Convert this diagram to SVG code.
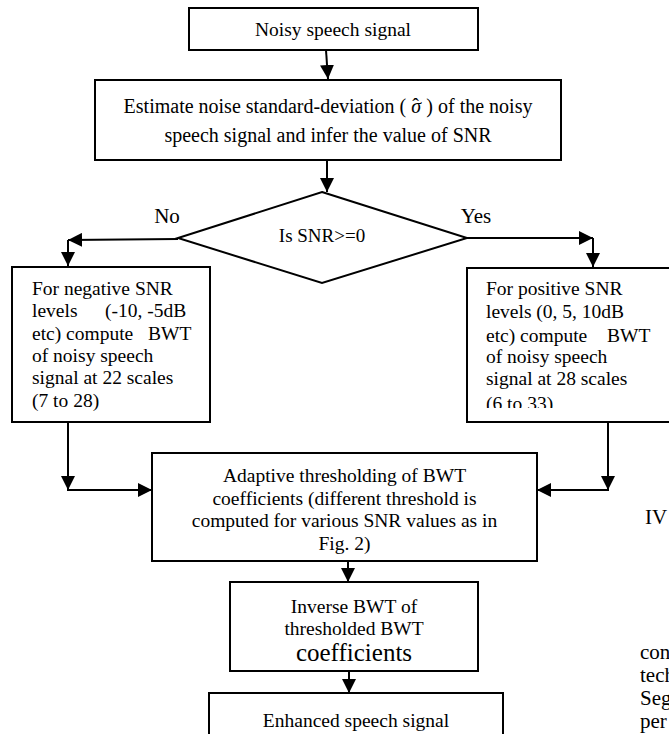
<svg xmlns="http://www.w3.org/2000/svg" width="669" height="734" viewBox="0 0 669 734" font-family="'Liberation Serif', 'Times New Roman', serif">
<style>
.box{fill:#fff;stroke:#000;stroke-width:2}
.ln{fill:none;stroke:#000;stroke-width:2}
text{font-family:"Liberation Serif","Times New Roman",serif;fill:#000}
.t{font-size:19.5px;text-anchor:middle}
.l{font-size:19.5px}
.big{font-size:21px}
</style>
<defs>
<marker id="ah" viewBox="0 0 14 14" refX="14" refY="7" markerWidth="14" markerHeight="14" markerUnits="userSpaceOnUse" orient="auto">
<path d="M0,0 L14,7 L0,14 z" fill="#000"/>
</marker>
<clipPath id="clipL"><rect x="12" y="267" width="198" height="144"/></clipPath>
<clipPath id="clipR"><rect x="467" y="268" width="215" height="140"/></clipPath>
</defs>
<rect width="669" height="734" fill="#fff"/>
<g id="connectors">
<line class="ln" x1="326" y1="50" x2="328" y2="79" marker-end="url(#ah)"/>
<line class="ln" x1="327" y1="160" x2="327" y2="192" marker-end="url(#ah)"/>
<line class="ln" x1="178" y1="239" x2="68" y2="240" marker-end="url(#ah)"/>
<line class="ln" x1="68" y1="240" x2="68" y2="266" marker-end="url(#ah)"/>
<line class="ln" x1="467" y1="238" x2="593" y2="238" marker-end="url(#ah)"/>
<line class="ln" x1="593" y1="238" x2="593" y2="267" marker-end="url(#ah)"/>
<line class="ln" x1="68" y1="422" x2="68" y2="490" marker-end="url(#ah)"/>
<line class="ln" x1="67" y1="490" x2="152" y2="490" marker-end="url(#ah)"/>
<line class="ln" x1="608" y1="422" x2="608" y2="490" marker-end="url(#ah)"/>
<line class="ln" x1="609" y1="490" x2="537" y2="490" marker-end="url(#ah)"/>
<line class="ln" x1="348" y1="561" x2="348" y2="582" marker-end="url(#ah)"/>
<line class="ln" x1="349" y1="671" x2="349" y2="693" marker-end="url(#ah)"/>
</g>
<g id="n1">
<rect class="box" x="189" y="8" width="289" height="42"/>
<text class="t" x="333" y="36">Noisy speech signal</text>
</g>
<g id="n2">
<rect class="box" x="95" y="80" width="466" height="80"/>
<text class="t" x="328" y="113" style="font-size:20px">Estimate noise standard-deviation ( <tspan font-style="italic">σ</tspan><tspan dx="-9">ˆ</tspan><tspan dx="2.5"> ) of the noisy</tspan></text>
<text class="t" x="328" y="142" style="font-size:20px">speech signal and infer the value of SNR</text>
</g>
<g id="n3">
<polygon class="box" points="322,192 467,238 322,283 178,238"/>
<text class="t" x="322" y="242" style="font-size:19px">Is SNR&gt;=0</text>
</g>
<g id="labels">
<text class="big" x="167" y="223" text-anchor="middle">No</text>
<text class="big" x="476" y="223" text-anchor="middle">Yes</text>
</g>
<g id="n4">
<rect class="box" x="12" y="267" width="198" height="155"/>
<g clip-path="url(#clipL)">
<text class="l" x="32" y="295">For negative SNR</text>
<text class="l" x="32" y="317">levels</text>
<text class="l" x="105" y="317">(-10, -5dB</text>
<text class="l" x="32" y="340">etc) compute</text>
<text class="l" x="148" y="340">BWT</text>
<text class="l" x="32" y="362">of noisy speech</text>
<text class="l" x="32" y="384">signal at 22 scales</text>
<text class="l" x="32" y="407">(7 to 28)</text>
</g>
</g>
<g id="n5">
<rect class="box" x="467" y="268" width="215" height="154"/>
<g clip-path="url(#clipR)">
<text class="l" x="486" y="295">For positive SNR</text>
<text class="l" x="486" y="318">levels (0, 5, 10dB</text>
<text class="l" x="486" y="342">etc) compute</text>
<text class="l" x="607" y="342">BWT</text>
<text class="l" x="486" y="363">of noisy speech</text>
<text class="l" x="486" y="385">signal at 28 scales</text>
<text class="l" x="486" y="410">(6 to 33)</text>
</g>
</g>
<g id="n6">
<rect class="box" x="152" y="453" width="385" height="108"/>
<text class="t" x="344.5" y="482">Adaptive thresholding of BWT</text>
<text class="t" x="344.5" y="505">coefficients (different threshold is</text>
<text class="t" x="344.5" y="527">computed for various SNR values as in</text>
<text class="t" x="344.5" y="550">Fig. 2)</text>
</g>
<g id="n7">
<rect class="box" x="230" y="582" width="248" height="89"/>
<text class="t" x="354" y="613">Inverse BWT of</text>
<text class="t" x="354" y="635">thresholded BWT</text>
<text class="t" x="354" y="661" style="font-size:25px">coefficients</text>
</g>
<g id="n8">
<rect class="box" x="209" y="693" width="294" height="60"/>
<text class="t" x="356" y="727">Enhanced speech signal</text>
</g>
<g id="sidetext">
<text class="big" x="645" y="524">IV</text>
<text class="big" x="640" y="659">con</text>
<text class="big" x="640" y="682">tech</text>
<text class="big" x="640" y="705">Seg</text>
<text class="big" x="640" y="728">per</text>
</g>
</svg>
